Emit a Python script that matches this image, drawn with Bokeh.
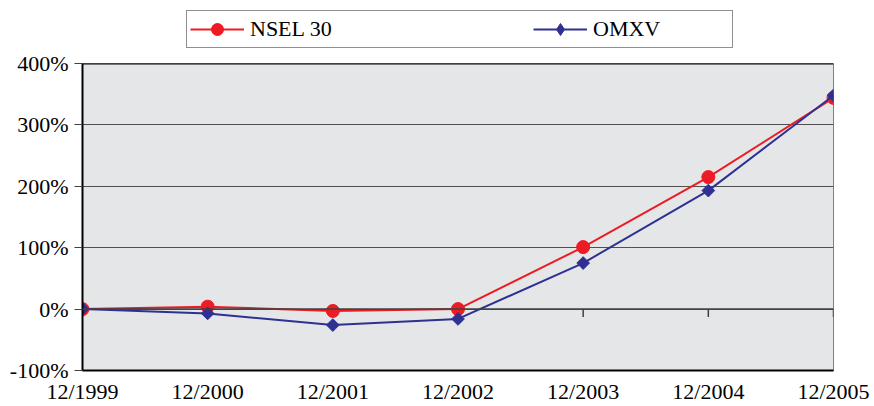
from bokeh.plotting import figure
from bokeh.layouts import column
from bokeh.models import (Range1d, FixedTicker, NumeralTickFormatter, Legend, LegendItem, Span)
from bokeh.embed import file_html
from bokeh.resources import INLINE
import math

categories = ["12/1999", "12/2000", "12/2001", "12/2002", "12/2003", "12/2004", "12/2005"]
nsel30 = [0.00, 0.04, -0.03, 0.00, 1.01, 2.15, 3.44]
omxv = [0.00, -0.07, -0.26, -0.16, 0.75, 1.93, 3.48]
series_names = ["NSEL 30", "OMXV"]
y_ticks = [-1, 0, 1, 2, 3, 4]

xs = list(range(len(categories)))
FONT = "Liberation Serif"
RED = "#ed1c24"
BLUE = "#2e3192"

# ---------- main chart ----------
p = figure(width=874, height=356, output_backend="svg", toolbar_location=None,
           x_range=Range1d(0, len(categories) - 1), y_range=Range1d(y_ticks[0], y_ticks[-1]),
           min_border_left=82, min_border_right=41, min_border_top=13, min_border_bottom=34)
p.background_fill_color = "#e5e6e8"
p.border_fill_color = "white"
p.outline_line_color = "#808080"
p.outline_line_width = 1

p.xaxis.ticker = FixedTicker(ticks=xs)
p.xaxis.major_label_overrides = {i: c for i, c in enumerate(categories)}
p.xaxis.major_tick_line_color = None
p.xaxis.major_tick_in = 0
p.xaxis.major_tick_out = 0
p.xaxis.minor_tick_line_color = None
p.xaxis.axis_line_color = "black"
p.xaxis.axis_line_width = 2
p.xaxis.major_label_text_font = FONT
p.xaxis.major_label_text_font_size = "22px"
p.xaxis.major_label_text_color = "black"
p.xaxis.major_label_standoff = 8

p.yaxis.ticker = FixedTicker(ticks=y_ticks)
p.yaxis.formatter = NumeralTickFormatter(format="0%")
p.yaxis.minor_tick_line_color = None
p.yaxis.major_tick_in = 0
p.yaxis.major_tick_out = 8
p.yaxis.major_tick_line_color = "#404040"
p.yaxis.axis_line_color = "black"
p.yaxis.axis_line_width = 2
p.yaxis.major_label_text_font = FONT
p.yaxis.major_label_text_font_size = "22px"
p.yaxis.major_label_text_color = "black"
p.yaxis.major_label_standoff = 6

p.xgrid.grid_line_color = None
p.ygrid.ticker = FixedTicker(ticks=y_ticks)
p.ygrid.grid_line_color = "#505050"
p.ygrid.grid_line_width = 1

# top border
p.add_layout(Span(location=y_ticks[-1], dimension="width", line_color="black", line_width=2))
# zero axis line with category ticks
p.add_layout(Span(location=0, dimension="width", line_color="#404040", line_width=1.5))
p.segment(x0=xs, y0=[0] * len(xs), x1=xs, y1=[-0.13] * len(xs), line_color="#404040", line_width=1.5)

p.line(xs, nsel30, line_color=RED, line_width=2)
p.scatter(xs, nsel30, marker="circle", size=13, fill_color=RED, line_color=RED)
p.line(xs, omxv, line_color=BLUE, line_width=2)
p.scatter(xs, omxv, marker="square", size=9, angle=math.pi / 4, fill_color=BLUE, line_color=BLUE)

# ---------- legend strip above the chart ----------
# The same series are attached to this strip only to supply the legend glyphs;
# its y range lies far above the data, so nothing but the legend is visible.
lg = figure(width=874, height=50, output_backend="svg", toolbar_location=None,
            x_axis_type=None, y_axis_type=None,
            x_range=Range1d(0, len(categories) - 1), y_range=Range1d(100, 101),
            min_border_left=0, min_border_right=0, min_border_top=0, min_border_bottom=0)
lg.outline_line_color = None
lg.background_fill_color = "white"
lg.border_fill_color = "white"
lg.xgrid.grid_line_color = None
lg.ygrid.grid_line_color = None
d1 = lg.line(xs, nsel30, line_color=RED, line_width=2)
e1 = lg.scatter(xs, nsel30, marker="circle", fill_color=RED, line_color=RED)
d2 = lg.line(xs, omxv, line_color=BLUE, line_width=2)
e2 = lg.scatter(xs, omxv, marker="diamond", fill_color=BLUE, line_color=BLUE)

legend = Legend(items=[LegendItem(label=series_names[0], renderers=[d1, e1]),
                       LegendItem(label=series_names[1], renderers=[d2, e2])],
                orientation="horizontal", location=(104, 2), margin=0, padding=3,
                glyph_width=54, glyph_height=30, label_height=30, label_width=136,
                label_standoff=6, spacing=147,
                border_line_color="#202020", border_line_width=1.5,
                background_fill_color="white", background_fill_alpha=1,
                label_text_font=FONT, label_text_font_size="22px", label_text_color="black")
lg.add_layout(legend, "center")

layout = column(lg, p, spacing=0)
open("out.html", "w").write(file_html(layout, INLINE))
